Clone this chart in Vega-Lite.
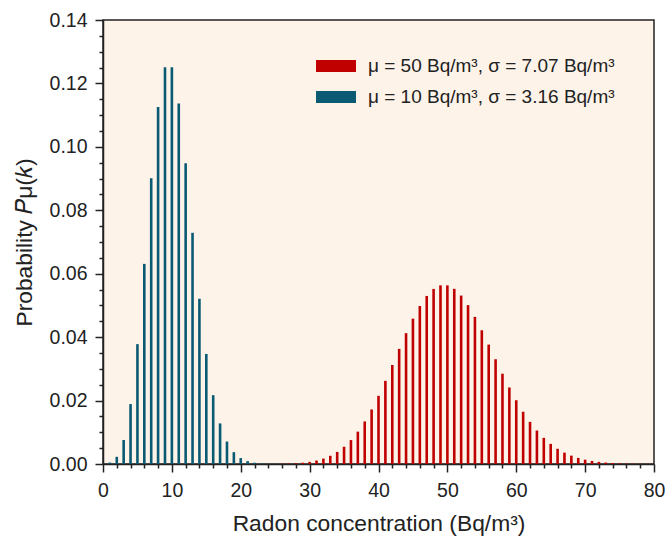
{
  "$schema": "https://vega.github.io/schema/vega-lite/v6.json",
  "autosize": {"type": "none"},
  "width": 551,
  "height": 444,
  "padding": {"left": 103, "top": 20, "right": 15, "bottom": 72},
  "background": "white",
  "config": {
    "font": "Liberation Sans",
    "view": {"fill": "#fdf3e9", "stroke": "#222222", "strokeWidth": 1.5},
    "axis": {"domainColor": "#222222", "domainWidth": 1.5, "tickColor": "#222222", "tickWidth": 1.5, "labelColor": "#222222", "titleColor": "#222222", "labelFont": "Liberation Sans", "titleFont": "Liberation Sans", "labelFontSize": 19.5, "titleFontSize": 22.8, "titleFontWeight": "normal", "grid": false}
  },
  "data": {"values": [
    {"k": 0, "p": 0.0000454, "s": "μ = 10 Bq/m³, σ = 3.16 Bq/m³"},
    {"k": 1, "p": 0.000454, "s": "μ = 10 Bq/m³, σ = 3.16 Bq/m³"},
    {"k": 2, "p": 0.00227, "s": "μ = 10 Bq/m³, σ = 3.16 Bq/m³"},
    {"k": 3, "p": 0.00757, "s": "μ = 10 Bq/m³, σ = 3.16 Bq/m³"},
    {"k": 4, "p": 0.0189, "s": "μ = 10 Bq/m³, σ = 3.16 Bq/m³"},
    {"k": 5, "p": 0.0378, "s": "μ = 10 Bq/m³, σ = 3.16 Bq/m³"},
    {"k": 6, "p": 0.0631, "s": "μ = 10 Bq/m³, σ = 3.16 Bq/m³"},
    {"k": 7, "p": 0.0901, "s": "μ = 10 Bq/m³, σ = 3.16 Bq/m³"},
    {"k": 8, "p": 0.1126, "s": "μ = 10 Bq/m³, σ = 3.16 Bq/m³"},
    {"k": 9, "p": 0.1251, "s": "μ = 10 Bq/m³, σ = 3.16 Bq/m³"},
    {"k": 10, "p": 0.1251, "s": "μ = 10 Bq/m³, σ = 3.16 Bq/m³"},
    {"k": 11, "p": 0.1137, "s": "μ = 10 Bq/m³, σ = 3.16 Bq/m³"},
    {"k": 12, "p": 0.0948, "s": "μ = 10 Bq/m³, σ = 3.16 Bq/m³"},
    {"k": 13, "p": 0.0729, "s": "μ = 10 Bq/m³, σ = 3.16 Bq/m³"},
    {"k": 14, "p": 0.0521, "s": "μ = 10 Bq/m³, σ = 3.16 Bq/m³"},
    {"k": 15, "p": 0.0347, "s": "μ = 10 Bq/m³, σ = 3.16 Bq/m³"},
    {"k": 16, "p": 0.0217, "s": "μ = 10 Bq/m³, σ = 3.16 Bq/m³"},
    {"k": 17, "p": 0.0128, "s": "μ = 10 Bq/m³, σ = 3.16 Bq/m³"},
    {"k": 18, "p": 0.00709, "s": "μ = 10 Bq/m³, σ = 3.16 Bq/m³"},
    {"k": 19, "p": 0.00373, "s": "μ = 10 Bq/m³, σ = 3.16 Bq/m³"},
    {"k": 20, "p": 0.00187, "s": "μ = 10 Bq/m³, σ = 3.16 Bq/m³"},
    {"k": 21, "p": 0.00089, "s": "μ = 10 Bq/m³, σ = 3.16 Bq/m³"},
    {"k": 22, "p": 0.000404, "s": "μ = 10 Bq/m³, σ = 3.16 Bq/m³"},
    {"k": 23, "p": 0.000176, "s": "μ = 10 Bq/m³, σ = 3.16 Bq/m³"},
    {"k": 24, "p": 0.0000732, "s": "μ = 10 Bq/m³, σ = 3.16 Bq/m³"},
    {"k": 25, "p": 0.0000293, "s": "μ = 10 Bq/m³, σ = 3.16 Bq/m³"},
    {"k": 26, "p": 0.0000712, "s": "μ = 50 Bq/m³, σ = 7.07 Bq/m³"},
    {"k": 27, "p": 0.000132, "s": "μ = 50 Bq/m³, σ = 7.07 Bq/m³"},
    {"k": 28, "p": 0.000236, "s": "μ = 50 Bq/m³, σ = 7.07 Bq/m³"},
    {"k": 29, "p": 0.000406, "s": "μ = 50 Bq/m³, σ = 7.07 Bq/m³"},
    {"k": 30, "p": 0.000677, "s": "μ = 50 Bq/m³, σ = 7.07 Bq/m³"},
    {"k": 31, "p": 0.001093, "s": "μ = 50 Bq/m³, σ = 7.07 Bq/m³"},
    {"k": 32, "p": 0.001707, "s": "μ = 50 Bq/m³, σ = 7.07 Bq/m³"},
    {"k": 33, "p": 0.002587, "s": "μ = 50 Bq/m³, σ = 7.07 Bq/m³"},
    {"k": 34, "p": 0.003804, "s": "μ = 50 Bq/m³, σ = 7.07 Bq/m³"},
    {"k": 35, "p": 0.005434, "s": "μ = 50 Bq/m³, σ = 7.07 Bq/m³"},
    {"k": 36, "p": 0.007548, "s": "μ = 50 Bq/m³, σ = 7.07 Bq/m³"},
    {"k": 37, "p": 0.0102, "s": "μ = 50 Bq/m³, σ = 7.07 Bq/m³"},
    {"k": 38, "p": 0.01342, "s": "μ = 50 Bq/m³, σ = 7.07 Bq/m³"},
    {"k": 39, "p": 0.0172, "s": "μ = 50 Bq/m³, σ = 7.07 Bq/m³"},
    {"k": 40, "p": 0.0215, "s": "μ = 50 Bq/m³, σ = 7.07 Bq/m³"},
    {"k": 41, "p": 0.02622, "s": "μ = 50 Bq/m³, σ = 7.07 Bq/m³"},
    {"k": 42, "p": 0.03122, "s": "μ = 50 Bq/m³, σ = 7.07 Bq/m³"},
    {"k": 43, "p": 0.0363, "s": "μ = 50 Bq/m³, σ = 7.07 Bq/m³"},
    {"k": 44, "p": 0.04125, "s": "μ = 50 Bq/m³, σ = 7.07 Bq/m³"},
    {"k": 45, "p": 0.04583, "s": "μ = 50 Bq/m³, σ = 7.07 Bq/m³"},
    {"k": 46, "p": 0.04981, "s": "μ = 50 Bq/m³, σ = 7.07 Bq/m³"},
    {"k": 47, "p": 0.05299, "s": "μ = 50 Bq/m³, σ = 7.07 Bq/m³"},
    {"k": 48, "p": 0.0552, "s": "μ = 50 Bq/m³, σ = 7.07 Bq/m³"},
    {"k": 49, "p": 0.05633, "s": "μ = 50 Bq/m³, σ = 7.07 Bq/m³"},
    {"k": 50, "p": 0.05633, "s": "μ = 50 Bq/m³, σ = 7.07 Bq/m³"},
    {"k": 51, "p": 0.05523, "s": "μ = 50 Bq/m³, σ = 7.07 Bq/m³"},
    {"k": 52, "p": 0.05311, "s": "μ = 50 Bq/m³, σ = 7.07 Bq/m³"},
    {"k": 53, "p": 0.0501, "s": "μ = 50 Bq/m³, σ = 7.07 Bq/m³"},
    {"k": 54, "p": 0.04639, "s": "μ = 50 Bq/m³, σ = 7.07 Bq/m³"},
    {"k": 55, "p": 0.04217, "s": "μ = 50 Bq/m³, σ = 7.07 Bq/m³"},
    {"k": 56, "p": 0.03765, "s": "μ = 50 Bq/m³, σ = 7.07 Bq/m³"},
    {"k": 57, "p": 0.03303, "s": "μ = 50 Bq/m³, σ = 7.07 Bq/m³"},
    {"k": 58, "p": 0.02847, "s": "μ = 50 Bq/m³, σ = 7.07 Bq/m³"},
    {"k": 59, "p": 0.02413, "s": "μ = 50 Bq/m³, σ = 7.07 Bq/m³"},
    {"k": 60, "p": 0.02011, "s": "μ = 50 Bq/m³, σ = 7.07 Bq/m³"},
    {"k": 61, "p": 0.01648, "s": "μ = 50 Bq/m³, σ = 7.07 Bq/m³"},
    {"k": 62, "p": 0.01329, "s": "μ = 50 Bq/m³, σ = 7.07 Bq/m³"},
    {"k": 63, "p": 0.01055, "s": "μ = 50 Bq/m³, σ = 7.07 Bq/m³"},
    {"k": 64, "p": 0.008242, "s": "μ = 50 Bq/m³, σ = 7.07 Bq/m³"},
    {"k": 65, "p": 0.00634, "s": "μ = 50 Bq/m³, σ = 7.07 Bq/m³"},
    {"k": 66, "p": 0.004803, "s": "μ = 50 Bq/m³, σ = 7.07 Bq/m³"},
    {"k": 67, "p": 0.003584, "s": "μ = 50 Bq/m³, σ = 7.07 Bq/m³"},
    {"k": 68, "p": 0.002636, "s": "μ = 50 Bq/m³, σ = 7.07 Bq/m³"},
    {"k": 69, "p": 0.00191, "s": "μ = 50 Bq/m³, σ = 7.07 Bq/m³"},
    {"k": 70, "p": 0.001364, "s": "μ = 50 Bq/m³, σ = 7.07 Bq/m³"},
    {"k": 71, "p": 0.000961, "s": "μ = 50 Bq/m³, σ = 7.07 Bq/m³"},
    {"k": 72, "p": 0.000667, "s": "μ = 50 Bq/m³, σ = 7.07 Bq/m³"},
    {"k": 73, "p": 0.000457, "s": "μ = 50 Bq/m³, σ = 7.07 Bq/m³"},
    {"k": 74, "p": 0.000309, "s": "μ = 50 Bq/m³, σ = 7.07 Bq/m³"},
    {"k": 75, "p": 0.000206, "s": "μ = 50 Bq/m³, σ = 7.07 Bq/m³"},
    {"k": 76, "p": 0.000135, "s": "μ = 50 Bq/m³, σ = 7.07 Bq/m³"},
    {"k": 77, "p": 0.0000879, "s": "μ = 50 Bq/m³, σ = 7.07 Bq/m³"},
    {"k": 78, "p": 0.0000564, "s": "μ = 50 Bq/m³, σ = 7.07 Bq/m³"},
    {"k": 79, "p": 0.0000357, "s": "μ = 50 Bq/m³, σ = 7.07 Bq/m³"}
  ]},
  "mark": {"type": "bar", "width": 2.6},
  "encoding": {
    "x": {
      "field": "k", "type": "quantitative",
      "scale": {"domain": [0, 80], "nice": false, "zero": false, "padding": 0},
      "axis": {
        "title": "Radon concentration (Bq/m³)",
        "values": [0,2,4,6,8,10,12,14,16,18,20,22,24,26,28,30,32,34,36,38,40,42,44,46,48,50,52,54,56,58,60,62,64,66,68,70,72,74,76,78,80],
        "labelExpr": "datum.value % 10 === 0 ? datum.label : ''",
        "tickSize": {"condition": {"test": "datum.value % 10 === 0", "value": 8}, "value": 4},
        "labelPadding": 9,
        "titlePadding": 13,
        "labelFlush": false,
        "labelAlign": "center",
        "labelOverlap": false,
        "labelBound": false
      }
    },
    "y": {
      "field": "p", "type": "quantitative",
      "scale": {"domain": [0, 0.14], "nice": false},
      "axis": {
        "title": "Probability 𝑃μ(𝑘)",
        "values": [0,0.005,0.01,0.015,0.02,0.025,0.03,0.035,0.04,0.045,0.05,0.055,0.06,0.065,0.07,0.075,0.08,0.085,0.09,0.095,0.1,0.105,0.11,0.115,0.12,0.125,0.13,0.135,0.14],
        "format": ".2f",
        "labelExpr": "round(datum.value * 1000) % 20 === 0 ? datum.label : ''",
        "tickSize": {"condition": {"test": "round(datum.value * 1000) % 20 === 0", "value": 8}, "value": 4},
        "labelPadding": 8,
        "titlePadding": 13,
        "labelFlush": false,
        "labelBaseline": "middle",
        "labelOverlap": false
      }
    },
    "color": {
      "field": "s", "type": "nominal",
      "scale": {"domain": ["μ = 50 Bq/m³, σ = 7.07 Bq/m³", "μ = 10 Bq/m³, σ = 3.16 Bq/m³"], "range": ["#c00000", "#0b5a73"]},
      "legend": {
        "title": null,
        "orient": "none",
        "legendX": 223,
        "legendY": 36,
        "padding": 0,
        "symbolType": "M-2,-0.6H2V0.6H-2Z",
        "symbolSize": 400,
        "symbolStrokeWidth": 0,
        "symbolOpacity": 1,
        "labelFont": "Liberation Sans",
        "labelFontSize": 19,
        "labelColor": "#222222",
        "labelOffset": 22,
        "labelLimit": 400,
        "rowPadding": 11
      }
    }
  }
}
